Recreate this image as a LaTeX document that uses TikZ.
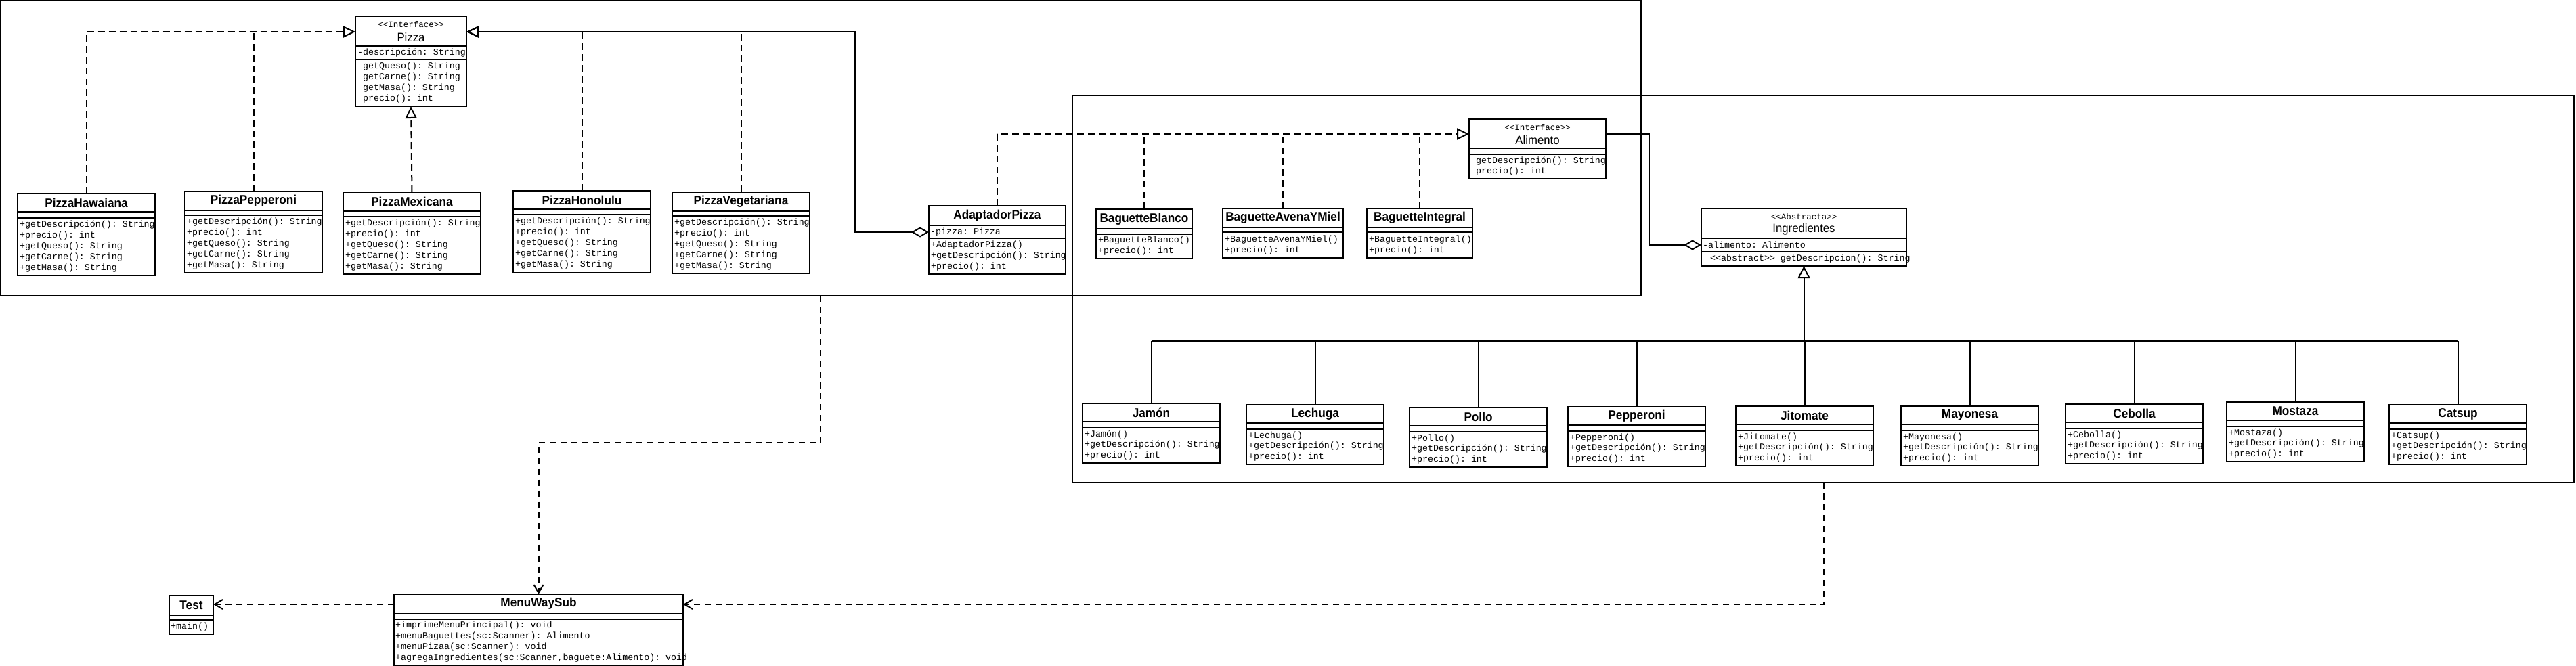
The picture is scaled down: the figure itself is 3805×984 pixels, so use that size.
\documentclass[tikz,border=0pt]{standalone}
\usepackage{fontspec}
\setmonofont{Liberation Mono}
\newfontfamily\classfont[FakeStretch=0.93]{Liberation Sans}
\usetikzlibrary{arrows.meta}

% class box: name, x1, y1, x2, y2, end of title, end of attributes, title
\newcommand{\umlclass}[8]{%
  \node[classbox, minimum width={(#4-#2)*1pt}, minimum height={(#5-#3)*1pt}] (#1) at (#2,#3) {};
  \draw[line width=2pt] (#2,#6) -- (#4,#6) (#2,#7) -- (#4,#7);
  \node[cname] at ({(#2+#4)/2},{(#3+#6)/2}) {#8};
}
% same, with a stereotype above a plain title
\newcommand{\umliface}[9]{%
  \node[classbox, minimum width={(#4-#2)*1pt}, minimum height={(#5-#3)*1pt}] (#1) at (#2,#3) {};
  \draw[line width=2pt] (#2,#6) -- (#4,#6) (#2,#7) -- (#4,#7);
  \node[stereo] at ({(#2+#4)/2},#3+12) {#8};
  \node[cnamei] at ({(#2+#4)/2},#3+31) {#9};
}
% member lines: x, first y, line step, list
\newcommand{\members}[4]{%
  \foreach \m [count=\i from 0] in {#4}
    \node[member] at (#1,{#2+#3*\i}) {\m};
}
% ingredient class: name, x1, y1, title
\newcommand{\ingrediente}[4]{%
  \umlclass{#1}{#2}{#3}{#2+203}{#3+88}{#3+27}{#3+36}{#4}
  \members{#2+3}{#3+46}{15.5}{{+#4()},{+getDescripción(): String},{+precio(): int}}
}

\begin{document}
\begin{tikzpicture}[x=1pt, y=-1pt,
    classbox/.style={draw, line width=2pt, fill=white, inner sep=0pt, outer sep=0pt, anchor=north west},
    pkg/.style={draw, line width=2pt, inner sep=0pt, outer sep=0pt, anchor=north west},
    cname/.style={font=\classfont\bfseries\fontsize{18.5}{20}\selectfont, inner sep=0pt},
    cnamei/.style={font=\classfont\fontsize{18}{20}\selectfont, inner sep=0pt},
    stereo/.style={font=\ttfamily\fontsize{12.5}{14}\selectfont, inner sep=0pt},
    member/.style={font=\ttfamily\fontsize{13.3}{16}\selectfont, inner sep=0pt, anchor=west},
    realize/.style={line width=2pt, dash pattern=on 10pt off 6pt, -{Triangle[open, length=18pt, width=17pt]}},
    dashline/.style={line width=2pt, dash pattern=on 10pt off 6pt},
    depend/.style={line width=2pt, dash pattern=on 9pt off 7pt, -{Straight Barb[length=12pt, width=14pt]}},
    solidline/.style={line width=2pt}]
  \useasboundingbox (0,0) rectangle (3805,984);

  % packages
  \node[pkg, minimum width=2423pt, minimum height=436pt] (pizzapkg) at (1,1) {};
  \node[pkg, minimum width=2218pt, minimum height=572pt] (ingpkg) at (1584,141) {};

  % pizzas
  \umliface{pizza}{525}{24}{689}{157}{68}{88}{<<Interface>>}{Pizza}
  \node[member] at (528,78) {-descripción: String};
  \members{536}{98}{16}{{getQueso(): String},{getCarne(): String},{getMasa(): String},{precio(): int}}

  \umlclass{hawaiana}{26}{286}{229}{407}{313}{322}{PizzaHawaiana}
  \members{29}{332}{16}{{+getDescripción(): String},{+precio(): int},{+getQueso(): String},{+getCarne(): String},{+getMasa(): String}}
  \umlclass{pizzapepperoni}{273}{283}{476}{403}{311}{318}{PizzaPepperoni}
  \members{276}{328}{16}{{+getDescripción(): String},{+precio(): int},{+getQueso(): String},{+getCarne(): String},{+getMasa(): String}}
  \umlclass{mexicana}{507}{284}{710}{405}{312}{320}{PizzaMexicana}
  \members{510}{330}{16}{{+getDescripción(): String},{+precio(): int},{+getQueso(): String},{+getCarne(): String},{+getMasa(): String}}
  \umlclass{honolulu}{758}{282}{961}{403}{309}{317}{PizzaHonolulu}
  \members{761}{327}{16}{{+getDescripción(): String},{+precio(): int},{+getQueso(): String},{+getCarne(): String},{+getMasa(): String}}
  \umlclass{vegetariana}{993}{284}{1196}{404}{312}{319}{PizzaVegetariana}
  \members{996}{329}{16}{{+getDescripción(): String},{+precio(): int},{+getQueso(): String},{+getCarne(): String},{+getMasa(): String}}

  \umlclass{adaptador}{1372}{304}{1574}{405}{333}{352}{AdaptadorPizza}
  \node[member] at (1374,343) {-pizza: Pizza};
  \members{1375}{362}{16}{{+AdaptadorPizza()},{+getDescripción(): String},{+precio(): int}}

  % baguettes
  \umliface{alimento}{2170}{176}{2372}{264}{219}{228}{<<Interface>>}{Alimento}
  \members{2180}{238}{15.5}{{getDescripción(): String},{precio(): int}}
  \umlclass{blanco}{1619}{309}{1761}{382}{338}{346}{BaguetteBlanco}
  \members{1622}{355}{16}{{+BaguetteBlanco()},{+precio(): int}}
  \umlclass{avena}{1806}{308}{1984}{381}{336}{343}{BaguetteAvenaYMiel}
  \members{1809}{354}{16}{{+BaguetteAvenaYMiel()},{+precio(): int}}
  \umlclass{integral}{2019}{308}{2175}{381}{336}{343}{BaguetteIntegral}
  \members{2022}{354}{16}{{+BaguetteIntegral()},{+precio(): int}}

  % ingredients
  \umliface{ingredientes}{2513}{308}{2816}{393}{352}{372}{<<Abstracta>>}{Ingredientes}
  \node[member] at (2515,362) {-alimento: Alimento};
  \node[member] at (2526,382) {<<abstract>> getDescripcion(): String};
  \ingrediente{jamon}{1599}{596}{Jamón}
  \ingrediente{lechuga}{1841}{598}{Lechuga}
  \ingrediente{pollo}{2082}{602}{Pollo}
  \ingrediente{pepperoni}{2316}{601}{Pepperoni}
  \ingrediente{jitomate}{2564}{600}{Jitomate}
  \ingrediente{mayonesa}{2808}{600}{Mayonesa}
  \ingrediente{cebolla}{3051}{597}{Cebolla}
  \ingrediente{mostaza}{3289}{594}{Mostaza}
  \ingrediente{catsup}{3529}{598}{Catsup}

  % menu and test
  \umlclass{test}{250}{880}{315}{937}{909}{916}{Test}
  \node[member] at (252,926) {+main()};
  \umlclass{menu}{582}{878}{1009}{983}{906}{915}{MenuWaySub}
  \members{584}{924}{16}{{+imprimeMenuPrincipal(): void},{+menuBaguettes(sc:Scanner): Alimento},{+menuPizaa(sc:Scanner): void},{+agregaIngredientes(sc:Scanner,baguete:Alimento): void}}

  % realizations of Pizza
  \draw[realize] (hawaiana.north) |- (pizza.west |- 0,47);
  \draw[dashline] (pizzapepperoni.north) -- (pizzapepperoni.north |- 0,47);
  \draw[realize] (mexicana.north) -- (pizza.south);
  \draw[realize] (honolulu.north) |- (pizza.east |- 0,47);
  \draw[dashline] (vegetariana.north) -- (vegetariana.north |- 0,47);
  % adapter holds a pizza
  \draw[solidline, {Diamond[open, length=26pt, width=15pt]}-{Triangle[open, length=18pt, width=17pt]}]
    (adaptador.west |- 0,343) -| (1263,47) -- (pizza.east |- 0,47);

  % realizations of Alimento
  \draw[realize] (adaptador.north) |- (alimento.west |- 0,198);
  \foreach \b in {blanco,avena,integral}
    \draw[dashline] (\b.north) -- (\b.north |- 0,198);
  \draw[solidline, -{Diamond[open, length=26pt, width=15pt]}]
    (alimento.east |- 0,198) -| (2436,362) -- (ingredientes.west |- 0,362);

  % ingredients extend Ingredientes
  \draw[line width=3pt] (jamon.north |- 0,504) -- (catsup.north |- 0,504);
  \foreach \n in {jamon,lechuga,pollo,pepperoni,jitomate,mayonesa,cebolla,mostaza,catsup}
    \draw[line width=2pt] (\n.north) -- (\n.north |- 0,504);
  \draw[solidline, -{Triangle[open, length=18pt, width=18pt]}] (ingredientes.south |- 0,504) -- (ingredientes.south);

  % dependencies of the menu
  \draw[depend] (pizzapkg.south -| 1212,0) |- (menu.north |- 0,654) -- (menu.north);
  \draw[depend] (ingpkg.south -| 2694,0) |- (menu.east |- 0,893);
  \draw[depend] (menu.west |- 0,893) -- (test.east |- 0,893);
\end{tikzpicture}
\end{document}
